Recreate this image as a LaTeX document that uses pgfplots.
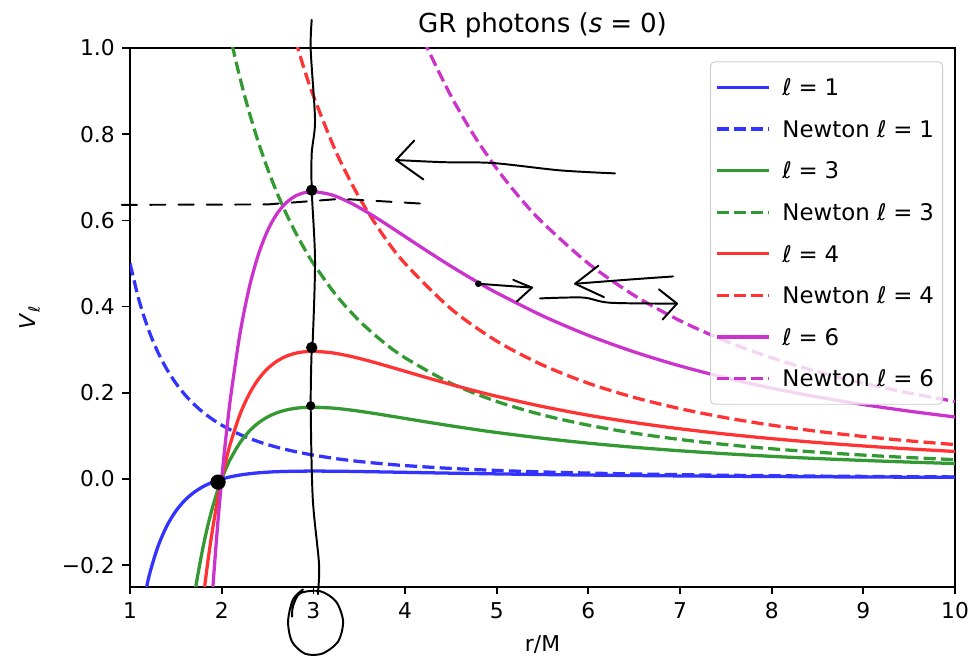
\documentclass[border=0pt]{standalone}
\usepackage{pgfplots}
\pgfplotsset{compat=1.18}
\usepackage{fontspec}
\setmainfont{DejaVu Sans}
\definecolor{cB}{rgb}{0.2,0.2,1}
\definecolor{cG}{rgb}{0.2,0.6,0.2}
\definecolor{cR}{rgb}{1,0.2,0.2}
\definecolor{cM}{rgb}{0.8,0.2,0.8}
\newcommand{\eqs}{\hspace{0.3em}=\hspace{0.3em}}
\begin{document}
\begin{tikzpicture}
\pgfplotsset{
  base/.style={
    at={(0,0)}, anchor=south west, scale only axis,
    width=378.7pt, height=247.4pt,
    xmin=1, xmax=10, ymin=-0.25, ymax=1.0,
  },
  ann/.style={black, no marks, line width=0.9pt, line cap=round, line join=round},
}
\begin{axis}[base,
  axis line style={black, line width=0.8pt},
  tick align=outside, major tick length=3.5pt,
  xtick pos=bottom, ytick pos=left,
  tick style={black, line width=0.8pt},
  xtick={1,2,3,4,5,6,7,8,9,10},
  xticklabels={1,2,3,4,5,6,7,8,9,10},
  ytick={-0.2,0,0.2,0.4,0.6,0.8,1.0},
  yticklabels={−0.2,0.0,0.2,0.4,0.6,0.8,1.0},
  ticklabel style={font=\fontsize{10}{12}\selectfont},
  xlabel={r/M}, ylabel={\textit{V}\textsubscript{\textit{ℓ}}},
  label style={font=\fontsize{10}{12}\selectfont},
  xlabel style={at={(axis description cs:0.5,-0.1075)}, anchor=center},
  ylabel style={at={(axis description cs:-0.1215,0.5)}, anchor=center},
  every axis title shift=0pt,
  title={GR photons (\textit{s}\eqs 0)},
  title style={font=\fontsize{12}{14}\selectfont, at={(axis description cs:0.5,1.042)}, anchor=center},
  legend cell align=left,
  legend image code/.code={\draw[#1] (0pt,0pt) -- (24pt,0pt);},
  legend style={at={(axis description cs:0.9855,0.975)}, anchor=north east,
    draw=black!20, rounded corners=2pt, fill=white, fill opacity=0.8, text opacity=1,
    font=\fontsize{10.5}{12}\selectfont, row sep=7.6pt, inner xsep=2pt, inner ysep=6pt,
    nodes={inner sep=2pt, text height=7.5pt, text depth=0pt},
    /tikz/every odd column/.style={column sep=3.5pt}},
]
\addplot[cB, line width=1.5pt, smooth] coordinates {
(1.1,-0.3381)(1.2,-0.2315)(1.3,-0.1593)(1.4,-0.1093)(1.5,-0.0741)(1.6,-0.0488)(1.7,-0.0305)(1.8,-0.0171)(1.9,-0.0073)(2.0,0)(2.1,0.0054)(2.2,0.0094)(2.3,0.0123)(2.4,0.0145)(2.5,0.0160)(2.6,0.0171)(2.8,0.0182)(3.0,0.0185)(3.2,0.0183)(3.4,0.0178)(3.6,0.0171)(3.8,0.0164)(4.0,0.0156)(4.5,0.0137)(5,0.0120)(5.5,0.0105)(6,0.0093)(6.5,0.0082)(7,0.0073)(7.5,0.0065)(8,0.0059)(8.5,0.0053)(9,0.0048)(9.5,0.0044)(10,0.0040)};
\addlegendentry{\textit{ℓ}\eqs 1}
\addplot[cB, line width=1.5pt, dash pattern=on 5.55pt off 2.4pt, smooth] coordinates {
(1.0,0.5)(1.1,0.4132)(1.2,0.3472)(1.3,0.2959)(1.4,0.2551)(1.5,0.2222)(1.6,0.1953)(1.7,0.1730)(1.8,0.1543)(1.9,0.1385)(2.0,0.125)(2.2,0.1033)(2.4,0.0868)(2.6,0.0740)(2.8,0.0638)(3.0,0.0556)(3.25,0.0473)(3.5,0.0408)(3.75,0.0356)(4,0.0313)(4.5,0.0247)(5,0.02)(5.5,0.0165)(6,0.0139)(6.5,0.0118)(7,0.0102)(7.5,0.0089)(8,0.0078)(8.5,0.0069)(9,0.0062)(9.5,0.0055)(10,0.005)};
\addlegendentry{Newton \textit{ℓ}\eqs 1}
\addplot[cG, line width=1.5pt, smooth] coordinates {
(1.5,-0.6667)(1.6,-0.4395)(1.7,-0.2748)(1.75,-0.2099)(1.8,-0.1543)(1.85,-0.1066)(1.9,-0.0656)(1.95,-0.0303)(2.0,0)(2.05,0.0261)(2.1,0.0486)(2.2,0.0845)(2.3,0.1110)(2.4,0.1302)(2.5,0.144)(2.6,0.1536)(2.7,0.1600)(2.8,0.1640)(2.9,0.1661)(3.0,0.1667)(3.2,0.1648)(3.4,0.1603)(3.6,0.1543)(3.8,0.1476)(4.0,0.1406)(4.25,0.1319)(4.5,0.1235)(4.75,0.1155)(5,0.108)(5.5,0.0947)(6,0.0833)(6.5,0.0737)(7,0.0656)(7.5,0.0587)(8,0.0527)(8.5,0.0476)(9,0.0432)(9.5,0.0394)(10,0.036)};
\addlegendentry{\textit{ℓ}\eqs 3}
\addplot[cG, line width=1.5pt, dash pattern=on 5.55pt off 2.4pt, smooth] coordinates {
(2.0,1.125)(2.1,1.0204)(2.2,0.9298)(2.3,0.8507)(2.4,0.7813)(2.5,0.72)(2.6,0.6657)(2.7,0.6173)(2.8,0.5740)(2.9,0.5351)(3.0,0.5)(3.25,0.4260)(3.5,0.3673)(3.75,0.32)(4,0.2813)(4.5,0.2222)(5,0.18)(5.5,0.1488)(6,0.125)(6.5,0.1065)(7,0.0918)(7.5,0.08)(8,0.0703)(8.5,0.0623)(9,0.0556)(9.5,0.0499)(10,0.045)};
\addlegendentry{Newton \textit{ℓ}\eqs 3}
\addplot[cR, line width=1.5pt, smooth] coordinates {
(1.5,-1.185)(1.6,-0.7813)(1.7,-0.4885)(1.75,-0.3732)(1.8,-0.2744)(1.85,-0.1895)(1.9,-0.1166)(1.95,-0.0539)(2.0,0)(2.05,0.0464)(2.1,0.0864)(2.2,0.1503)(2.3,0.1972)(2.4,0.2315)(2.5,0.256)(2.6,0.2731)(2.7,0.2845)(2.8,0.2916)(2.9,0.2952)(3.0,0.2963)(3.2,0.2930)(3.4,0.2850)(3.6,0.2744)(3.8,0.2624)(4.0,0.25)(4.25,0.2345)(4.5,0.2195)(4.75,0.2053)(5,0.192)(5.5,0.1683)(6,0.1481)(6.5,0.1311)(7,0.1166)(7.5,0.1043)(8,0.0938)(8.5,0.0847)(9,0.0768)(9.5,0.0700)(10,0.064)};
\addlegendentry{\textit{ℓ}\eqs 4}
\addplot[cR, line width=1.5pt, dash pattern=on 5.55pt off 2.4pt, smooth] coordinates {
(2.75,1.0579)(2.8,1.0204)(2.9,0.9512)(3.0,0.8889)(3.25,0.7574)(3.5,0.6531)(3.75,0.5689)(4,0.5)(4.5,0.3951)(5,0.32)(5.5,0.2645)(6,0.2222)(6.5,0.1893)(7,0.1633)(7.5,0.1422)(8,0.125)(8.5,0.1107)(9,0.0988)(9.5,0.0886)(10,0.08)};
\addlegendentry{Newton \textit{ℓ}\eqs 4}
\addplot[cM, line width=1.5pt, smooth] coordinates {
(1.7,-1.099)(1.75,-0.8397)(1.8,-0.6173)(1.85,-0.4264)(1.88,-0.3251)(1.9,-0.2624)(1.92,-0.2035)(1.95,-0.1214)(1.97,-0.0706)(2.0,0)(2.02,0.0437)(2.05,0.1045)(2.1,0.1944)(2.2,0.3381)(2.3,0.4438)(2.4,0.5208)(2.5,0.576)(2.6,0.6145)(2.7,0.6402)(2.8,0.6560)(2.9,0.6642)(3.0,0.6667)(3.2,0.6592)(3.4,0.6412)(3.6,0.6173)(3.8,0.5905)(4.0,0.5625)(4.25,0.5276)(4.5,0.4938)(4.75,0.4619)(5,0.432)(5.5,0.3786)(6,0.3333)(6.5,0.2949)(7,0.2624)(7.5,0.2347)(8,0.2109)(8.5,0.1905)(9,0.1728)(9.5,0.1575)(10,0.144)};
\addlegendentry{\textit{ℓ}\eqs 6}
\addplot[cM, line width=1.5pt, dash pattern=on 5.55pt off 2.4pt, smooth] coordinates {
(4.2,1.0204)(4.25,0.9965)(4.5,0.8889)(4.75,0.7978)(5,0.72)(5.25,0.6531)(5.5,0.5950)(6,0.5)(6.5,0.4260)(7,0.3673)(7.5,0.32)(8,0.2813)(8.5,0.2491)(9,0.2222)(9.5,0.1994)(10,0.18)};
\addlegendentry{Newton \textit{ℓ}\eqs 6}
\end{axis}
% hand-drawn annotations
\begin{axis}[base, hide axis, clip=false]
\addplot[ann, smooth] coordinates {(2.982,1.065)(2.971,0.995)(3.018,0.833)(2.982,0.756)(2.982,0.670)(3.018,0.507)(2.993,0.321)(2.982,0.305)(2.971,0.170)(2.993,-0.044)(3.062,-0.198)(3.048,-0.267)};
\addplot[ann, smooth] coordinates {(2.887,-0.256)(2.778,-0.279)(2.724,-0.330)(2.767,-0.377)(2.909,-0.405)(3.095,-0.405)(3.269,-0.377)(3.324,-0.330)(3.247,-0.284)(3.073,-0.260)(2.855,-0.265)(2.778,-0.295)(2.767,-0.319)};
\addplot[ann, dash pattern=on 7pt off 6pt] coordinates {(0.91,0.636)(2.5,0.637)(3.3,0.650)(4.25,0.638)};
\addplot[ann, smooth] coordinates {(6.291,0.709)(5.691,0.716)(4.960,0.733)(4.415,0.735)(3.902,0.740)};
\addplot[ann] coordinates {(4.1,0.785)(3.902,0.740)(4.2,0.695)};
\addplot[ann] coordinates {(4.796,0.453)(5.385,0.444)};
\addplot[ann] coordinates {(5.18,0.462)(5.385,0.444)(5.22,0.412)};
\addplot[ann, smooth] coordinates {(6.924,0.470)(6.4,0.462)(5.855,0.453)};
\addplot[ann] coordinates {(6.11,0.495)(5.855,0.453)(6.17,0.422)};
\addplot[ann, smooth] coordinates {(5.473,0.419)(5.942,0.421)(6.236,0.409)(6.967,0.407)};
\addplot[ann] coordinates {(6.77,0.44)(6.967,0.407)(6.81,0.37)};
\addplot[black, only marks, mark=*, mark size=3.3pt] coordinates {(1.96,-0.007)};
\addplot[black, only marks, mark=*, mark size=2.4pt] coordinates {(2.982,0.670)(2.982,0.305)};
\addplot[black, only marks, mark=*, mark size=1.9pt] coordinates {(2.971,0.170)};
\addplot[black, only marks, mark=*, mark size=1.3pt] coordinates {(4.80,0.453)};
\end{axis}
\pgfresetboundingbox
\path (-59.7pt,-35.8pt) rectangle (386.5pt,269.4pt);
\end{tikzpicture}
\end{document}
